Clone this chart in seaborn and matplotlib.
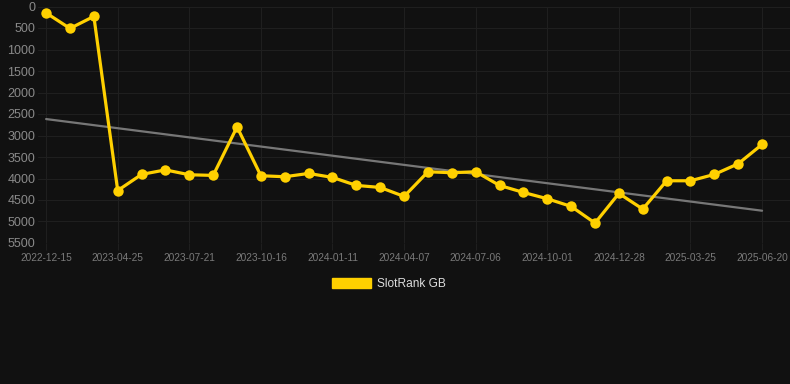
import numpy as np
import pandas as pd
import matplotlib
matplotlib.use("Agg")
import matplotlib.pyplot as plt
from matplotlib.patches import Patch
import seaborn as sns

# ---- data ----
tick_labels = ["2022-12-15", "2023-04-25", "2023-07-21", "2023-10-16", "2024-01-11",
               "2024-04-07", "2024-07-06", "2024-10-01", "2024-12-28", "2025-03-25",
               "2025-06-20"]
rank_values = [150, 510, 230, 4280, 3905, 3800, 3913, 3928, 2800, 3936,
               3959, 3882, 3975, 4161, 4208, 4417, 3843, 3866, 3843, 4161,
               4324, 4471, 4649, 5036, 4347, 4711, 4053, 4053, 3905, 3657,
               3208]
series_name = "SlotRank GB"
y_ticks = list(range(0, 5501, 500))

df = pd.DataFrame({"idx": np.arange(len(rank_values)), "rank": rank_values})

BG = "#111111"
GOLD = "#FFD000"
GRID = "#1f1f1f"

sns.set_theme(style="dark")
plt.rcParams["font.family"] = ["Liberation Sans", "DejaVu Sans"]

fig = plt.figure(figsize=(7.9, 3.84), dpi=100, facecolor=BG)
ax = fig.add_axes([38 / 790, 141 / 384, 752 / 790, 236.5 / 384])
ax.set_facecolor(BG)

sns.regplot(data=df, x="idx", y="rank", scatter=False, ci=None, ax=ax,
            line_kws=dict(color="#777777", linewidth=1.6, zorder=2))
sns.lineplot(data=df, x="idx", y="rank", ax=ax, color=GOLD, linewidth=2.3,
             marker="o", markersize=7.5, markeredgewidth=0, zorder=3)

ax.set_ylim(5500, 0)
ax.set_xlim(-0.34, 31.17)
ax.set_yticks(y_ticks)
ax.set_yticklabels([str(t) for t in y_ticks])
ax.set_xticks(np.arange(0, len(rank_values), 3))
ax.set_xticklabels(tick_labels)
ax.set_xlabel("")
ax.set_ylabel("")

ax.grid(True, color=GRID, linewidth=0.8)
for s in ax.spines.values():
    s.set_visible(False)
ax.tick_params(axis="y", length=0, pad=2, labelsize=9, labelcolor="#8a8a8a")
ax.tick_params(axis="x", length=5, width=0.8, color=GRID, pad=2,
               labelsize=7.3, labelcolor="#7a7a7a", bottom=True)

handle = Patch(facecolor=GOLD, edgecolor=GOLD)
fig.legend([handle], [series_name], loc="center", bbox_to_anchor=(389 / 790, 1 - 284 / 384),
           frameon=False, fontsize=8.6, labelcolor="#dddddd",
           handlelength=3.3, handleheight=1.0, handletextpad=0.5)

fig.savefig("out.png", dpi=100, facecolor=BG)
